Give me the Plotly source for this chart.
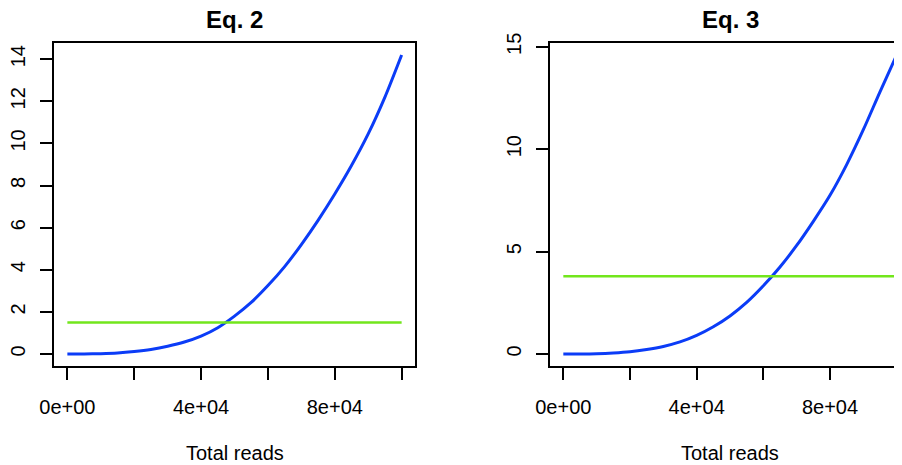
import plotly.graph_objects as go

# ---- data ----
total_reads = [0, 5000, 10000, 15000, 20000, 25000, 30000, 35000, 40000, 45000, 50000,
               55000, 60000, 65000, 70000, 75000, 80000, 85000, 90000, 95000, 100000]
eq2_values = [0.0, 0.002, 0.018, 0.05, 0.12, 0.22, 0.37, 0.57, 0.85, 1.25, 1.8,
              2.45, 3.25, 4.15, 5.2, 6.35, 7.6, 8.95, 10.45, 12.2, 14.2]
eq3_values = [0.0, 0.002, 0.015, 0.05, 0.11, 0.22, 0.37, 0.59, 0.91, 1.33, 1.86,
              2.52, 3.33, 4.25, 5.3, 6.48, 7.75, 9.25, 10.95, 12.8, 14.6]
eq2_threshold = 1.5
eq3_threshold = 3.8
threshold_x = [0, 100000]

x_tickvals = [0, 20000, 40000, 60000, 80000, 100000]
x_ticktext = ["0e+00", "", "4e+04", "", "8e+04", ""]
eq2_yticks = [0, 2, 4, 6, 8, 10, 12, 14]
eq3_yticks = [0, 5, 10, 15]
titles = ["Eq. 2", "Eq. 3"]
x_label = "Total reads"

BLUE = "#0b3cf7"
GREEN = "#72e61c"
FONT = "Liberation Sans, Arial, Helvetica, sans-serif"

W, H = 902, 465
OFF = 8  # page body margin offset
box_top, box_bot = 43, 366
left_box = (54, 415)
right_box = (550, 910)

def px(xp):
    return (xp - OFF) / W

def py(yp):
    return (H - (yp - OFF)) / H

fig = go.Figure()

curve_line = dict(color=BLUE, width=3, shape="spline", smoothing=0.8)
thr_line = dict(color=GREEN, width=2.5)
fig.add_trace(go.Scatter(x=total_reads, y=eq2_values, mode="lines", line=curve_line,
                         xaxis="x", yaxis="y", showlegend=False, hoverinfo="skip"))
fig.add_trace(go.Scatter(x=threshold_x, y=[eq2_threshold] * 2, mode="lines", line=thr_line,
                         xaxis="x", yaxis="y", showlegend=False, hoverinfo="skip"))
fig.add_trace(go.Scatter(x=total_reads, y=eq3_values, mode="lines", line=curve_line,
                         xaxis="x2", yaxis="y2", showlegend=False, hoverinfo="skip"))
fig.add_trace(go.Scatter(x=threshold_x, y=[eq3_threshold] * 2, mode="lines", line=thr_line,
                         xaxis="x2", yaxis="y2", showlegend=False, hoverinfo="skip"))

tickfont = dict(family=FONT, size=20, color="black")
common_x = dict(tickvals=x_tickvals, ticktext=x_ticktext, ticks="outside", ticklen=12,
                tickwidth=2, tickcolor="black", showline=True, linecolor="black",
                linewidth=2, showgrid=False, zeroline=False, tickfont=tickfont,
                ticklabelstandoff=10, automargin=False, mirror=True)
common_y = dict(ticks="outside", ticklen=12, tickwidth=2, tickcolor="black",
                showline=True, linecolor="black", linewidth=2, showgrid=False,
                zeroline=False, tickfont=tickfont, tickangle=-90, automargin=False,
                ticklabelstandoff=7, mirror=True)

ydom = [py(box_bot), py(box_top)]

fig.update_layout(
    width=W, height=H,
    margin=dict(l=0, r=0, t=0, b=0, autoexpand=False),
    paper_bgcolor="white", plot_bgcolor="white",
    xaxis=dict(domain=[px(left_box[0]), px(left_box[1])], range=[-4000, 104000],
               anchor="y", **common_x),
    yaxis=dict(domain=ydom, range=[-0.568, 14.768], anchor="x",
               tickvals=eq2_yticks, **common_y),
    xaxis2=dict(domain=[px(right_box[0]), min(1.0, px(right_box[1]))], range=[-4000, 104000],
                anchor="y2", **common_x),
    yaxis2=dict(domain=ydom, range=[-0.584, 15.184], anchor="x2",
                tickvals=eq3_yticks, **common_y),
)

centers = [(left_box[0] + left_box[1]) / 2, (right_box[0] + right_box[1]) / 2]
for title, cx in zip(titles, centers):
    fig.add_annotation(x=px(cx), y=py(20), xref="paper", yref="paper",
                       text="<b>" + title + "</b>", showarrow=False,
                       xanchor="center", yanchor="middle",
                       font=dict(family=FONT, size=24, color="black"))
    fig.add_annotation(x=px(cx), y=py(453), xref="paper", yref="paper",
                       text=x_label, showarrow=False,
                       xanchor="center", yanchor="middle",
                       font=dict(family=FONT, size=20, color="black"))

fig.write_html("out.html")
